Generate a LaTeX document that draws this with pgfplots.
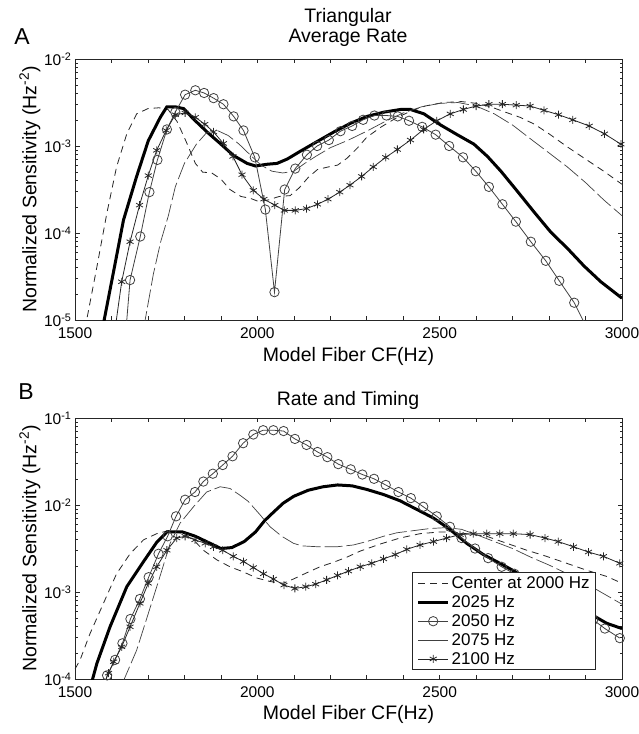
\documentclass[border=0pt]{standalone}
\usepackage{fontspec}
\setmainfont{Liberation Sans}
\setsansfont{Liberation Sans}
\usepackage{pgfplots}
\pgfplotsset{compat=1.18}

\pgfplotsset{
  myCen/.style={black!85, line width=0.8pt, dash pattern=on 7pt off 5pt},
  myThk/.style={black, line width=3pt},
  myCir/.style={black!75, line width=0.8pt, mark=o, mark size=4.7pt, mark options={solid, line width=0.8pt}},
  myCirLine/.style={black!75, line width=0.8pt},
  mySev/.style={black!75, line width=0.7pt, dash pattern=on 18pt off 4pt, legend image post style={solid}},
  mySta/.style={black!85, line width=0.8pt, mark=asterisk, mark size=4pt, mark options={solid, line width=0.8pt}},
  myStaLine/.style={black!85, line width=0.8pt},
}

\begin{document}
\begin{tikzpicture}
\path[use as bounding box] (0,0) rectangle (639pt,734pt);

% ---------------- Panel A ----------------
\begin{axis}[
  ymode=log,
  width=547pt, height=261pt, scale only axis,
  at={(75pt,414pt)}, anchor=south west,
  xmin=1500, xmax=3000,
  ymin=1e-5, ymax=1e-2,
  xtick={1500,1600,...,3000},
  xticklabels={1500,,,,,2000,,,,,2500,,,,,3000},
  ytick={1e-5,1e-4,1e-3,1e-2},
  yticklabels={10\textsuperscript{-5},10\textsuperscript{-4},10\textsuperscript{-3},10\textsuperscript{-2}},
  tick align=inside, major tick length=4.5pt, minor tick length=2.5pt,
  tick style={black!85, line width=0.6pt},
  axis line style={black!85, line width=0.8pt},
  tick label style={font=\fontsize{15.5pt}{18pt}\selectfont},
  xticklabel style={yshift=-4pt},
  label style={font=\fontsize{19.5pt}{23pt}\selectfont},
  xlabel={Model Fiber CF(Hz)},
  ylabel={Normalized Sensitivity (Hz\textsuperscript{-2})},
  ylabel style={at={(axis description cs:-0.0823,0.5)}, anchor=center},
  xlabel style={at={(axis description cs:0.5,-0.14)}, anchor=center},
]
\addplot[myCen] coordinates {
(1528,7.9e-6) (1532,1.0e-5) (1560,4.07e-5) (1587,1.66e-4) (1614,5.75e-4) (1642,1.38e-3)
(1669,2.34e-3) (1700,2.69e-3) (1730,2.75e-3) (1755,2.63e-3) (1780,1.91e-3) (1805,1.12e-3)
(1830,6.31e-4) (1850,5.01e-4) (1875,4.90e-4) (1900,4.17e-4) (1925,3.16e-4) (1955,2.63e-4)
(1980,2.51e-4) (2005,2.29e-4) (2030,2.40e-4) (2060,2.63e-4) (2090,2.69e-4) (2115,3.31e-4)
(2140,4.37e-4) (2165,5.37e-4) (2195,5.75e-4) (2220,6.03e-4) (2246,7.24e-4) (2275,9.55e-4)
(2300,1.26e-3) (2340,1.66e-3) (2380,2.09e-3) (2420,2.51e-3) (2460,2.88e-3) (2510,3.16e-3)
(2560,3.24e-3) (2600,3.09e-3) (2640,2.82e-3) (2680,2.45e-3) (2720,2.14e-3) (2760,1.78e-3)
(2800,1.38e-3) (2850,9.77e-4) (2900,7.08e-4) (2950,5.13e-4) (3000,3.63e-4)
};
\addplot[myThk] coordinates {
(1572,6.3e-6) (1580,1.0e-5) (1605,3.47e-5) (1633,1.41e-4) (1669,4.47e-4) (1701,1.15e-3)
(1734,2.14e-3) (1752,2.82e-3) (1775,2.82e-3) (1798,2.69e-3) (1825,2.04e-3) (1862,1.45e-3)
(1898,1.07e-3) (1935,7.76e-4) (1972,6.31e-4) (1995,5.89e-4) (2027,6.17e-4) (2054,6.31e-4)
(2082,7.08e-4) (2118,8.71e-4) (2160,1.10e-3) (2210,1.45e-3) (2255,1.82e-3) (2301,2.19e-3)
(2347,2.45e-3) (2393,2.63e-3) (2420,2.63e-3) (2457,2.34e-3) (2503,1.74e-3) (2548,1.35e-3)
(2594,1.05e-3) (2631,7.59e-4) (2668,5.13e-4) (2713,3.02e-4) (2759,1.74e-4) (2805,1.02e-4)
(2851,6.61e-5) (2896,4.17e-5) (2942,2.75e-5) (3000,1.78e-5)
};
\addplot[myCir] coordinates {
(1651,2.88e-5) (1679,9.12e-5) (1704,2.95e-4) (1726,6.92e-4) (1752,1.55e-3) (1775,2.45e-3)
(1802,3.89e-3) (1830,4.37e-3) (1854,4.07e-3) (1880,3.55e-3) (1907,3.02e-3) (1935,2.19e-3)
(1962,1.51e-3) (1993,7.41e-4) (2022,1.86e-4) (2047,2.09e-5) (2075,3.16e-4) (2104,5.50e-4)
(2136,7.94e-4) (2164,1.00e-3) (2196,1.17e-3) (2228,1.48e-3) (2260,1.70e-3) (2290,2.00e-3)
(2321,2.24e-3) (2354,2.24e-3) (2385,2.19e-3) (2416,1.95e-3) (2452,1.66e-3) (2489,1.35e-3)
(2526,1.00e-3) (2564,7.41e-4) (2599,5.13e-4) (2635,3.39e-4) (2672,2.14e-4) (2709,1.35e-4)
(2750,7.94e-5) (2791,4.79e-5) (2828,2.82e-5) (2869,1.58e-5)
};
\addplot[myCirLine, forget plot] coordinates {(1640,7.9e-6) (1651,2.88e-5)};
\addplot[myCirLine, forget plot] coordinates {(2869,1.58e-5) (2905,7.9e-6)};
\addplot[mySev] coordinates {
(1688,7.9e-6) (1715,3.39e-5) (1735,7.94e-5) (1756,1.58e-4) (1775,3.39e-4) (1800,6.31e-4)
(1833,1.05e-3) (1860,1.41e-3) (1890,1.51e-3) (1920,1.32e-3) (1950,1.05e-3) (1980,7.94e-4)
(2010,6.03e-4) (2040,5.13e-4) (2070,4.90e-4) (2100,5.13e-4) (2130,6.31e-4) (2160,7.59e-4)
(2200,9.55e-4) (2250,1.17e-3) (2300,1.48e-3) (2350,1.91e-3) (2400,2.40e-3) (2450,2.82e-3)
(2500,3.09e-3) (2550,3.16e-3) (2600,2.88e-3) (2650,2.34e-3) (2700,1.74e-3) (2750,1.20e-3)
(2800,8.32e-4) (2850,5.75e-4) (2900,3.80e-4) (2950,2.40e-4) (3000,1.58e-4)
};
\addplot[mySta] coordinates {
(1628,2.75e-5) (1651,7.94e-5) (1677,2.09e-4) (1701,4.57e-4) (1724,8.91e-4) (1750,1.51e-3)
(1775,2.29e-3) (1802,2.40e-3) (1830,2.14e-3) (1856,1.78e-3) (1880,1.45e-3) (1907,1.07e-3)
(1933,7.59e-4) (1958,4.68e-4) (1989,3.09e-4) (2018,2.45e-4) (2048,2.09e-4) (2074,1.82e-4)
(2104,1.82e-4) (2135,1.91e-4) (2165,2.14e-4) (2194,2.45e-4) (2226,2.95e-4) (2254,3.55e-4)
(2286,4.47e-4) (2318,5.75e-4) (2352,7.41e-4) (2384,9.12e-4) (2420,1.17e-3) (2456,1.55e-3)
(2492,1.95e-3) (2529,2.34e-3) (2565,2.63e-3) (2600,2.88e-3) (2635,3.02e-3) (2672,3.02e-3)
(2710,2.95e-3) (2748,2.88e-3) (2786,2.57e-3) (2826,2.29e-3) (2865,2.00e-3) (2910,1.70e-3)
(2952,1.38e-3) (2997,1.05e-3)
};
\addplot[myStaLine, forget plot] coordinates {(1610,7.9e-6) (1628,2.75e-5)};
\end{axis}

% ---------------- Panel B ----------------
\begin{axis}[
  ymode=log,
  width=547pt, height=261pt, scale only axis,
  at={(75pt,55pt)}, anchor=south west,
  xmin=1500, xmax=3000,
  ymin=1e-4, ymax=1e-1,
  xtick={1500,1600,...,3000},
  xticklabels={1500,,,,,2000,,,,,2500,,,,,3000},
  ytick={1e-4,1e-3,1e-2,1e-1},
  yticklabels={10\textsuperscript{-4},10\textsuperscript{-3},10\textsuperscript{-2},10\textsuperscript{-1}},
  tick align=inside, major tick length=4.5pt, minor tick length=2.5pt,
  tick style={black!85, line width=0.6pt},
  axis line style={black!85, line width=0.8pt},
  tick label style={font=\fontsize{15.5pt}{18pt}\selectfont},
  xticklabel style={yshift=-4pt},
  label style={font=\fontsize{19.5pt}{23pt}\selectfont},
  xlabel={Model Fiber CF(Hz)},
  ylabel={Normalized Sensitivity (Hz\textsuperscript{-2})},
  ylabel style={at={(axis description cs:-0.0823,0.5)}, anchor=center},
  xlabel style={at={(axis description cs:0.5,-0.135)}, anchor=center},
  legend image code/.code={\draw[mark repeat=2,mark phase=2,#1] plot coordinates {(0pt,0pt) (15pt,0pt) (30pt,0pt)};},
  legend style={at={(axis description cs:0.9525,0.0345)}, anchor=south east,
    draw=black!85, line width=0.7pt, fill=white,
    font=\fontsize{17pt}{20pt}\selectfont, inner xsep=4pt, inner ysep=2pt, row sep=1.5pt},
  legend cell align=left,
]
\addplot[myCen] coordinates {
(1500,1.30e-4) (1514,1.66e-4) (1541,3.31e-4) (1578,7.41e-4) (1614,1.62e-3) (1651,2.75e-3)
(1688,3.98e-3) (1724,4.68e-3) (1761,5.13e-3) (1797,4.68e-3) (1825,3.98e-3) (1852,3.02e-3)
(1889,2.34e-3) (1925,1.95e-3) (1962,1.70e-3) (1998,1.45e-3) (2035,1.32e-3) (2071,1.26e-3)
(2099,1.41e-3) (2135,1.66e-3) (2172,1.95e-3) (2208,2.19e-3) (2245,2.51e-3) (2282,2.95e-3)
(2336,3.55e-3) (2391,4.17e-3) (2446,4.68e-3) (2501,4.90e-3) (2537,4.90e-3) (2574,4.68e-3)
(2629,4.37e-3) (2684,3.63e-3) (2739,3.02e-3) (2793,2.57e-3) (2848,2.14e-3) (2903,1.78e-3)
(2958,1.51e-3) (3000,1.26e-3)
};
\addlegendentry{Center at 2000 Hz}
\addplot[myThk] coordinates {
(1545,8.9e-5) (1560,1.51e-4) (1596,3.98e-4) (1642,1.15e-3) (1688,2.24e-3) (1724,3.72e-3)
(1752,4.90e-3) (1795,4.90e-3) (1830,4.37e-3) (1865,3.72e-3) (1900,3.16e-3) (1930,3.24e-3)
(1964,3.80e-3) (1995,4.90e-3) (2020,6.61e-3) (2045,8.32e-3) (2071,1.05e-2) (2100,1.26e-2)
(2140,1.48e-2) (2180,1.62e-2) (2220,1.70e-2) (2260,1.66e-2) (2300,1.51e-2) (2346,1.32e-2)
(2391,1.12e-2) (2437,8.91e-3) (2483,7.08e-3) (2528,5.25e-3) (2574,3.63e-3) (2620,2.69e-3)
(2665,2.14e-3) (2700,1.78e-3) (2750,1.32e-3) (2800,1.00e-3) (2850,7.94e-4) (2900,6.03e-4)
(2958,4.37e-4) (3000,3.80e-4)
};
\addlegendentry{2025 Hz}
\addplot[myCir] coordinates {
(1588,1.10e-4) (1610,1.66e-4) (1630,2.57e-4) (1652,4.90e-4) (1678,8.32e-4) (1702,1.48e-3)
(1729,2.75e-3) (1754,4.37e-3) (1777,7.41e-3) (1802,1.15e-2) (1829,1.41e-2) (1852,1.86e-2)
(1878,2.29e-2) (1905,2.88e-2) (1932,3.63e-2) (1961,5.13e-2) (1989,6.46e-2) (2016,7.24e-2)
(2044,7.24e-2) (2072,7.08e-2) (2103,5.75e-2) (2135,4.90e-2) (2165,4.07e-2) (2192,3.55e-2)
(2222,2.95e-2) (2256,2.57e-2) (2288,2.24e-2) (2320,2.00e-2) (2352,1.70e-2) (2387,1.41e-2)
(2421,1.20e-2) (2455,9.55e-3) (2492,7.41e-3) (2528,5.62e-3) (2560,4.17e-3) (2597,3.16e-3)
(2633,2.45e-3) (2670,1.95e-3) (2705,1.62e-3) (2740,1.35e-3) (2778,1.07e-3) (2815,8.71e-4)
(2850,7.08e-4) (2886,5.89e-4) (2921,4.79e-4) (2953,3.80e-4) (2994,2.95e-4)
};
\addlegendentry{2050 Hz}
\addplot[myCirLine, forget plot] coordinates {(1580,8.0e-5) (1588,1.10e-4)};
\addplot[mySev] coordinates {
(1630,8.91e-5) (1669,2.14e-4) (1697,5.01e-4) (1733,1.51e-3) (1761,3.63e-3) (1788,6.17e-3)
(1825,9.55e-3) (1861,1.41e-2) (1898,1.62e-2) (1925,1.55e-2) (1953,1.29e-2) (1975,1.10e-2)
(2007,7.76e-3) (2035,5.62e-3) (2067,4.37e-3) (2099,3.63e-3) (2122,3.39e-3) (2167,3.31e-3)
(2218,3.31e-3) (2263,3.47e-3) (2300,3.80e-3) (2346,4.37e-3) (2382,4.79e-3) (2437,5.13e-3)
(2474,5.37e-3) (2520,5.50e-3) (2560,5.25e-3) (2600,4.57e-3) (2650,3.80e-3) (2700,3.16e-3)
(2750,2.51e-3) (2800,2.04e-3) (2850,1.62e-3) (2900,1.26e-3) (2950,9.55e-4) (3000,7.24e-4)
};
\addlegendentry{2075 Hz}
\addplot[mySta] coordinates {
(1592,1.17e-4) (1606,1.58e-4) (1628,2.34e-4) (1651,3.98e-4) (1678,7.41e-4) (1701,1.26e-3)
(1724,1.95e-3) (1752,3.02e-3) (1779,4.17e-3) (1802,4.37e-3) (1829,3.98e-3) (1857,3.63e-3)
(1880,3.31e-3) (1905,3.02e-3) (1934,2.57e-3) (1962,2.24e-3) (1989,1.91e-3) (2017,1.62e-3)
(2044,1.41e-3) (2073,1.20e-3) (2103,1.10e-3) (2133,1.15e-3) (2160,1.23e-3) (2190,1.38e-3)
(2220,1.55e-3) (2250,1.74e-3) (2282,1.95e-3) (2314,2.14e-3) (2346,2.40e-3) (2378,2.69e-3)
(2410,3.09e-3) (2446,3.47e-3) (2483,3.80e-3) (2519,4.17e-3) (2556,4.57e-3) (2592,4.68e-3)
(2629,4.68e-3) (2665,4.68e-3) (2702,4.68e-3) (2748,4.57e-3) (2789,4.17e-3) (2825,3.80e-3)
(2867,3.31e-3) (2908,2.88e-3) (2949,2.57e-3) (2994,2.14e-3)
};
\addlegendentry{2100 Hz}
\addplot[myStaLine, forget plot] coordinates {(1580,8.9e-5) (1592,1.17e-4)};
\end{axis}

% ---------------- Titles and panel letters ----------------
\node[font=\fontsize{19.5pt}{23pt}\selectfont] at (348pt,717pt) {Triangular};
\node[font=\fontsize{19.5pt}{23pt}\selectfont] at (348pt,696pt) {Average Rate};
\node[font=\fontsize{23pt}{27pt}\selectfont] at (22pt,697pt) {A};
\node[font=\fontsize{23pt}{27pt}\selectfont] at (26pt,342pt) {B};
\node[font=\fontsize{19.5pt}{23pt}\selectfont] at (348pt,334pt) {Rate and Timing};
\end{tikzpicture}
\end{document}
